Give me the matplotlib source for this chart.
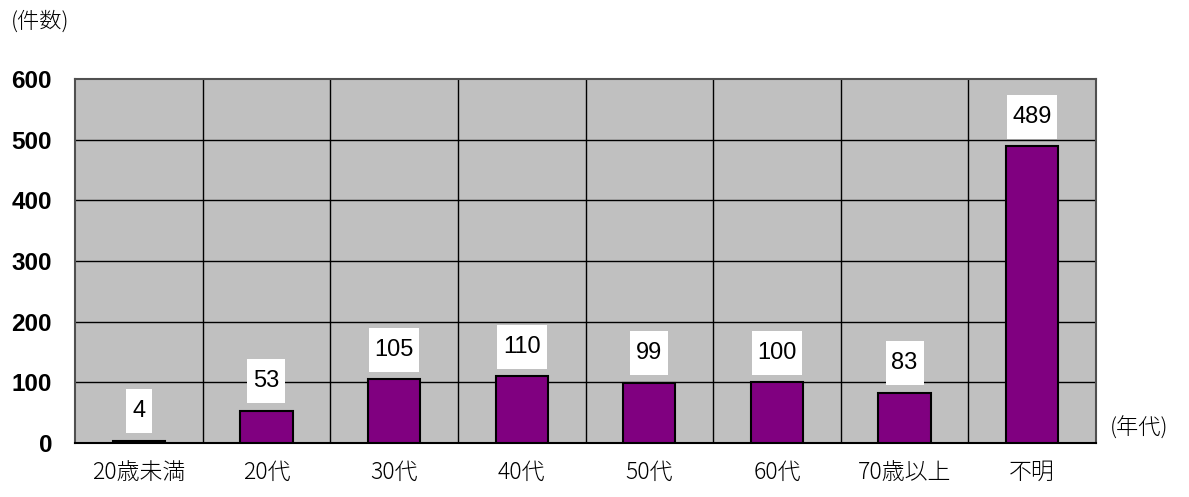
import matplotlib
matplotlib.use("Agg")
import matplotlib.pyplot as plt
from matplotlib.patches import Rectangle
from matplotlib.transforms import ScaledTranslation

categories = ["20歳未満", "20代", "30代", "40代", "50代", "60代", "70歳以上", "不明"]
values = [4, 53, 105, 110, 99, 100, 83, 489]
yticks = [0, 100, 200, 300, 400, 500, 600]

num_font = "Liberation Sans"
jp_font = ["Noto Sans CJK JP", "DejaVu Sans"]

W, H, DPI = 1189, 497, 100
fig = plt.figure(figsize=(W / DPI, H / DPI), dpi=DPI)
ax = fig.add_axes([75 / W, 1 - 443 / H, (1096 - 75) / W, (443 - 79) / H])
ax.set_facecolor("#C0C0C0")

n = len(categories)
x = list(range(n))
ax.bar(x, values, width=0.41, color="#800080", edgecolor="black", linewidth=1.5, zorder=3)

ax.set_xlim(-0.5, n - 0.5)
ax.set_ylim(0, 600)
ax.set_yticks(yticks)
ax.set_yticklabels([str(t) for t in yticks], family=num_font, fontsize=17.5,
                   fontweight="bold")
for y in yticks[1:-1]:
    ax.axhline(y, color="black", lw=1, zorder=1)
for b in range(1, n):
    ax.axvline(b - 0.5, color="black", lw=1, zorder=1)

ax.set_xticks(x)
ax.set_xticklabels(categories, family=jp_font, fontsize=16.5, fontweight="light")
ax.tick_params(axis="both", length=0)
ax.tick_params(axis="y", pad=16.5)
ax.tick_params(axis="x", pad=12)
for s in ["top", "right", "left"]:
    ax.spines[s].set_color("#505050")
    ax.spines[s].set_linewidth(1.5)
ax.spines["bottom"].set_color("black")
ax.spines["bottom"].set_linewidth(1.5)

# data labels with white boxes
for xi, v in zip(x, values):
    s = str(v)
    wpx = {1: 26, 2: 38, 3: 50}[len(s)]
    hpx = 44
    off = 29.5
    trans = fig.dpi_scale_trans + ScaledTranslation(xi, v, ax.transData)
    rect = Rectangle((-wpx / 2 / DPI, (off - hpx / 2) / DPI), wpx / DPI, hpx / DPI,
                     transform=trans, facecolor="white", edgecolor="none", zorder=4)
    ax.add_patch(rect)
    ax.text(0, off / DPI, s, transform=trans, ha="center", va="center",
            family="Liberation Sans", fontsize=17, zorder=5)

fig.text(40 / W, 1 - 22 / H, "(件数)", family=jp_font, fontsize=16, fontweight="light",
         ha="center", va="center")
fig.text(1139 / W, 1 - 428 / H, "(年代)", family=jp_font, fontsize=16, fontweight="light",
         ha="center", va="center")

fig.savefig("out.png", dpi=DPI)
